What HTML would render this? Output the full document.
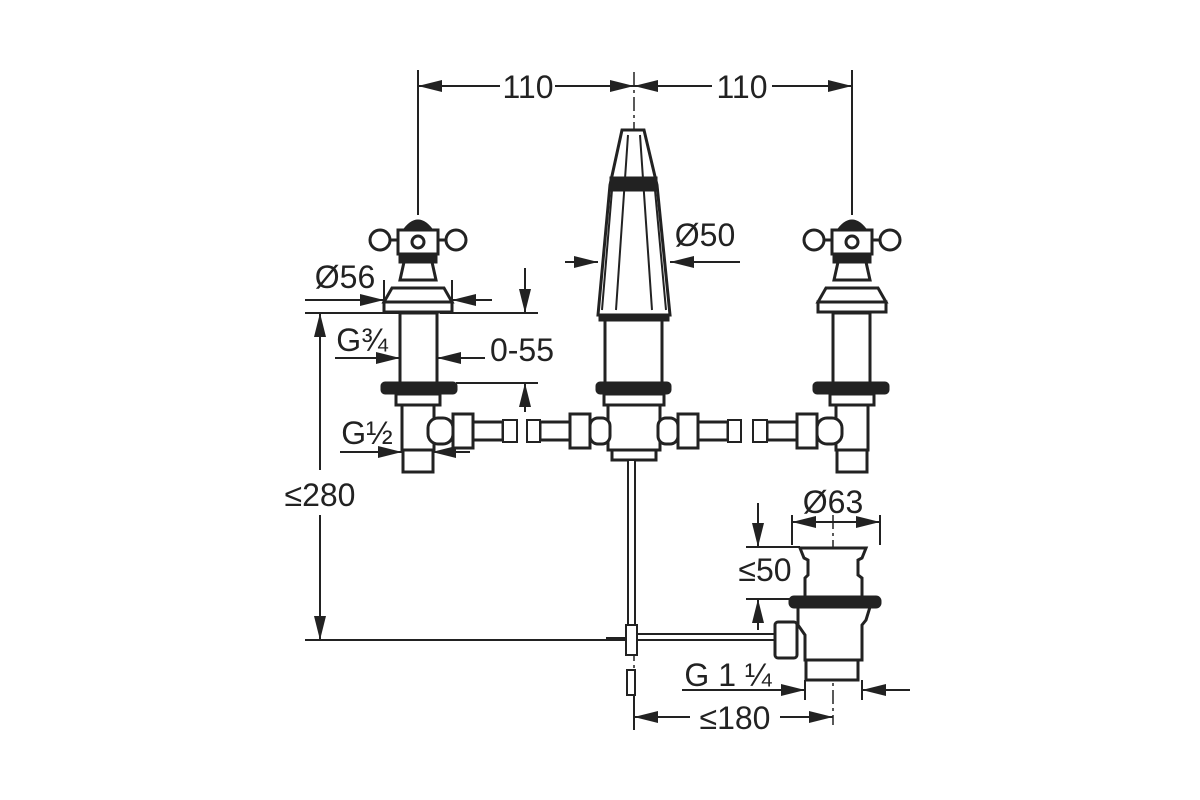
<!DOCTYPE html>
<html><head><meta charset="utf-8"><style>
html,body{margin:0;padding:0;background:#fff;width:1200px;height:800px;overflow:hidden}
text{font-family:"Liberation Sans",sans-serif;font-size:32px;fill:#222}
</style></head><body>
<svg width="1200" height="800" viewBox="0 0 1200 800" xmlns="http://www.w3.org/2000/svg">
<defs>
<marker id="a" viewBox="0 0 24 12" refX="24" refY="6" markerWidth="24" markerHeight="12" markerUnits="userSpaceOnUse" orient="auto"><path d="M0,0L24,6L0,12z" fill="#222"/></marker>
</defs>
<g stroke="#222" fill="none" stroke-width="2">
<line x1="418" y1="70" x2="418" y2="215"/>
<line x1="852" y1="70" x2="852" y2="215"/>
<line x1="634" y1="72" x2="634" y2="700" stroke-width="1.5" stroke-dasharray="14,4,3,4"/>
<line x1="833" y1="515" x2="833" y2="725" stroke-width="1.5" stroke-dasharray="14,4,3,4"/>
<line x1="500" y1="86" x2="418" y2="86" marker-end="url(#a)"/>
<line x1="555" y1="86" x2="634" y2="86" marker-end="url(#a)"/>
<line x1="712" y1="86" x2="634" y2="86" marker-end="url(#a)"/>
<line x1="772" y1="86" x2="852" y2="86" marker-end="url(#a)"/>
<line x1="305" y1="313" x2="400" y2="313"/>
<line x1="305" y1="640" x2="612" y2="640"/>
<line x1="320" y1="470" x2="320" y2="313" marker-end="url(#a)"/>
<line x1="320" y1="515" x2="320" y2="640" marker-end="url(#a)"/>
<line x1="384" y1="280" x2="384" y2="310"/>
<line x1="452" y1="280" x2="452" y2="310"/>
<line x1="305" y1="300" x2="384" y2="300" marker-end="url(#a)"/>
<line x1="492" y1="300" x2="452" y2="300" marker-end="url(#a)"/>
<line x1="440" y1="313" x2="538" y2="313"/>
<line x1="456" y1="383" x2="538" y2="383"/>
<line x1="525" y1="268" x2="525" y2="313" marker-end="url(#a)"/>
<line x1="525" y1="412" x2="525" y2="383" marker-end="url(#a)"/>
<line x1="485" y1="358" x2="437" y2="358" marker-end="url(#a)"/>
<line x1="335" y1="358" x2="400" y2="358" marker-end="url(#a)"/>
<line x1="340" y1="452" x2="402" y2="452" marker-end="url(#a)"/>
<line x1="470" y1="452" x2="432" y2="452" marker-end="url(#a)"/>
<line x1="565" y1="262" x2="598" y2="262" marker-end="url(#a)"/>
<line x1="740" y1="262" x2="670" y2="262" marker-end="url(#a)"/>
<line x1="792" y1="515" x2="792" y2="545"/>
<line x1="880" y1="515" x2="880" y2="545"/>
<line x1="833" y1="522" x2="792" y2="522" marker-end="url(#a)"/>
<line x1="833" y1="522" x2="880" y2="522" marker-end="url(#a)"/>
<line x1="746" y1="547" x2="800" y2="547"/>
<line x1="746" y1="599" x2="792" y2="599"/>
<line x1="758" y1="503" x2="758" y2="547" marker-end="url(#a)"/>
<line x1="758" y1="630" x2="758" y2="599" marker-end="url(#a)"/>
<line x1="805" y1="680" x2="805" y2="700"/>
<line x1="862" y1="680" x2="862" y2="700"/>
<line x1="682" y1="690" x2="805" y2="690" marker-end="url(#a)"/>
<line x1="910" y1="690" x2="862" y2="690" marker-end="url(#a)"/>
<line x1="634" y1="680" x2="634" y2="730"/>
<line x1="690" y1="717" x2="634" y2="717" marker-end="url(#a)"/>
<line x1="780" y1="717" x2="833" y2="717" marker-end="url(#a)"/>
</g>

<g id="tap" stroke="#222" stroke-width="3" fill="#fff">
<path d="M403,232 Q418,210 433,232 Z" fill="#222"/>
<rect x="398" y="230" width="40" height="24"/>
<circle cx="380" cy="240" r="10"/><circle cx="456" cy="240" r="10"/>
<line x1="390" y1="240" x2="398" y2="240"/><line x1="438" y1="240" x2="446" y2="240"/>
<circle cx="418" cy="242" r="6"/>
<rect x="400" y="254" width="36" height="8" fill="#222"/>
<path d="M404,262 L432,262 L436,280 L400,280 Z"/>
<path d="M392,288 L444,288 L452,302 L384,302 Z"/>
<rect x="384" y="302" width="68" height="10"/>
<rect x="400" y="313" width="37" height="70"/>
<rect x="382" y="383" width="74" height="10" rx="3" fill="#222"/>
<rect x="396" y="394" width="44" height="11"/>
<rect x="402" y="405" width="32" height="45"/>
<rect x="403" y="450" width="30" height="22"/>
<rect x="428" y="418" width="25" height="26" rx="10"/>
<rect x="453" y="414" width="20" height="34"/>
<rect x="473" y="422" width="30" height="18"/>
<rect x="503" y="420" width="14" height="22" stroke-width="2"/>
</g>
<use href="#tap" transform="translate(1270,0) scale(-1,1)"/>

<g stroke="#222" stroke-width="3" fill="#fff">
<path d="M622,130 L644,130 L657,185 L670,315 L598,315 L610,185 Z"/>
<rect x="611" y="178" width="45" height="12" fill="#222"/>
<path d="M612,190 L602,310 M655,190 L666,310 M628,135 L616,310 M640,135 L652,310" stroke-width="2"/>
<rect x="600" y="315" width="68" height="5" fill="#222"/>
<rect x="605" y="320" width="57" height="63"/>
<rect x="597" y="383" width="73" height="10" rx="3" fill="#222"/>
<rect x="604" y="394" width="60" height="11"/>
<rect x="608" y="405" width="52" height="45"/>
<rect x="612" y="450" width="44" height="10"/>
<rect x="590" y="418" width="20" height="26" rx="8"/>
<rect x="570" y="414" width="20" height="34"/>
<rect x="540" y="422" width="30" height="18"/>
<rect x="527" y="420" width="13" height="22" stroke-width="2"/>
<rect x="658" y="418" width="20" height="26" rx="8"/>
<rect x="678" y="414" width="20" height="34"/>
<rect x="698" y="422" width="30" height="18"/>
<rect x="728" y="420" width="13" height="22" stroke-width="2"/>
<rect x="628" y="460" width="7" height="165" stroke-width="2"/>
<rect x="626" y="625" width="11" height="30" stroke-width="2"/>
<rect x="627" y="670" width="8" height="25" stroke-width="2"/>
<line x1="606" y1="639" x2="626" y2="639" stroke-width="4"/>
<rect x="637" y="634" width="140" height="6" stroke-width="2"/>
<rect x="775" y="622" width="22" height="36" rx="3"/>
<path d="M800,548 L866,548 L862,558 L858,560 L858,575 L862,578 L862,597 L805,597 L805,578 L808,575 L808,560 L804,558 Z"/>
<rect x="790" y="597" width="90" height="10" rx="4" fill="#222"/>
<path d="M798,607 L870,607 L866,620 L862,625 L862,660 L805,660 L805,635 L798,625 Z"/>
<rect x="806" y="660" width="52" height="20"/>
</g>

<text x="528" y="98" text-anchor="middle">110</text>
<text x="742" y="98" text-anchor="middle">110</text>
<text x="345" y="288" text-anchor="middle">Ø56</text>
<text x="362" y="351" text-anchor="middle">G¾</text>
<text x="522" y="361" text-anchor="middle">0-55</text>
<text x="367" y="444" text-anchor="middle">G½</text>
<text x="320" y="506" text-anchor="middle">≤280</text>
<text x="705" y="246" text-anchor="middle">Ø50</text>
<text x="833" y="513" text-anchor="middle">Ø63</text>
<text x="765" y="581" text-anchor="middle">≤50</text>
<text x="728" y="686" text-anchor="middle">G 1 ¼</text>
<text x="735" y="729" text-anchor="middle">≤180</text>
</svg>
</body></html>
